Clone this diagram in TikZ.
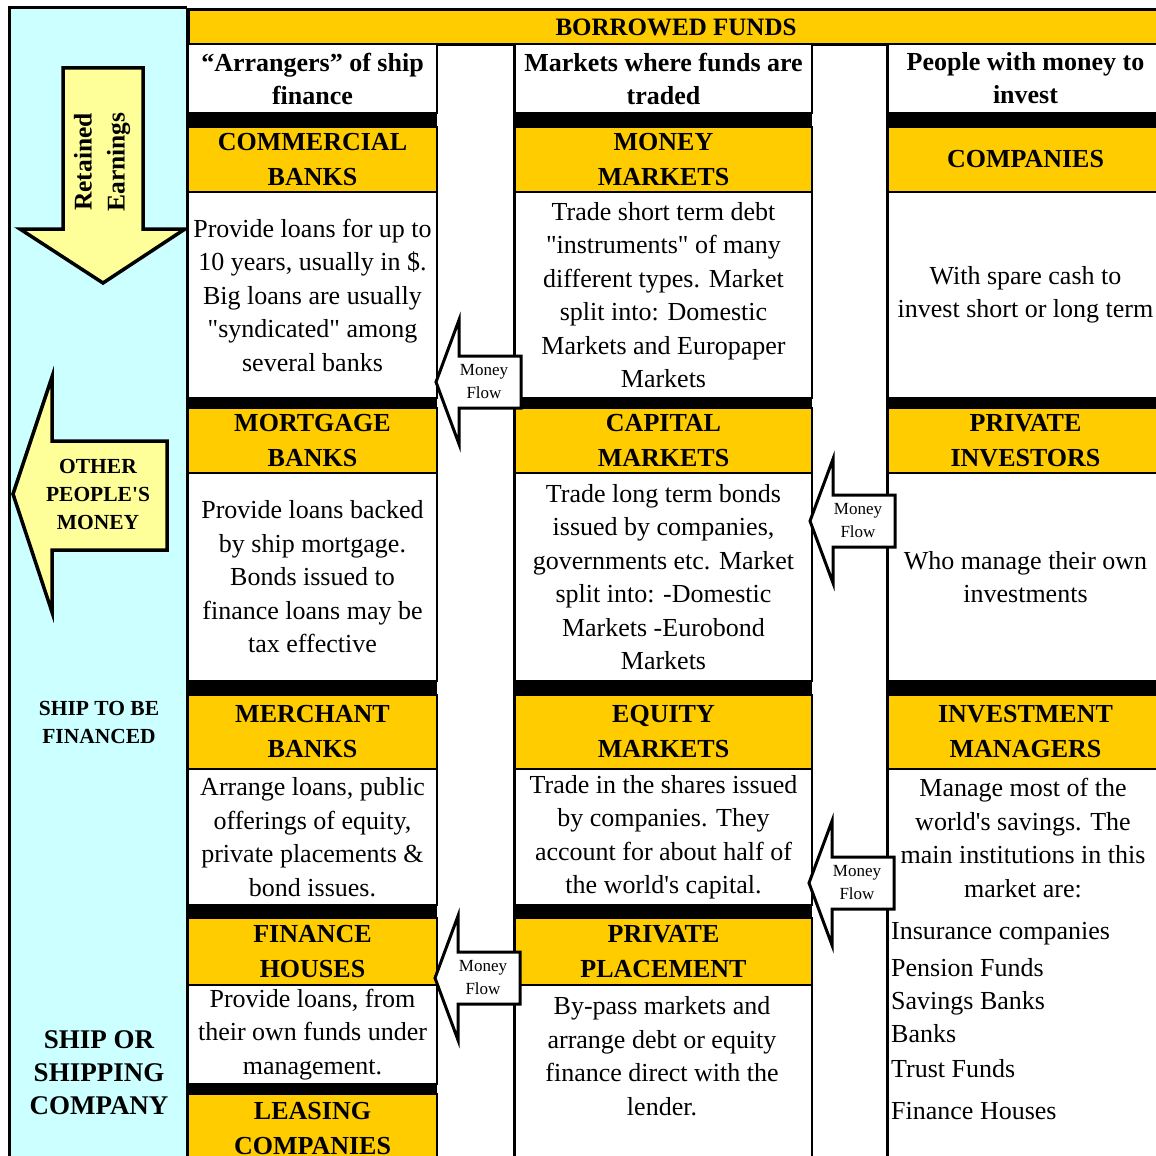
\documentclass[tikz,border=0pt]{standalone}
\usepackage{fontspec}
\setmainfont{Liberation Serif}[Ligatures=TeXOff]
\definecolor{fundyellow}{HTML}{FFCC00}
\definecolor{panelcyan}{HTML}{CCFFFF}
\definecolor{arrowyellow}{HTML}{FFFF99}

% a table cell: name, style, x1, y1, x2, y2, text
\newcommand{\cell}[7]{\node[#2,minimum width={(#5-#3)*1pt},minimum height={(#6-#4)*1pt}] (#1) at (#3,#4) {#7};}
% a "Money Flow" arrow pointing left: name, tip x, tip y
\newcommand{\moneyflow}[3]{%
  \draw[flow] (#2,#3) -- ++(23,-62) -- ++(0,36) -- ++(62,0) -- ++(0,52) -- ++(-62,0) -- ++(0,36) -- cycle;
  \node[flowtext] (#1) at (#2+48,#3) {Money\\Flow};}

\begin{document}
\begin{tikzpicture}[x=1pt,y=-1pt,
  bodytext/.style={font=\fontsize{26}{33.5}\selectfont,align=center},
  cellbox/.style={draw=black,line width=2pt,inner sep=0pt,anchor=north west,align=center},
  headcell/.style={cellbox,fill=white,font=\bfseries\fontsize{26}{33}\selectfont},
  namecell/.style={cellbox,fill=fundyellow,font=\bfseries\fontsize{26}{35}\selectfont},
  textcell/.style={cellbox,fill=white,bodytext},
  gapcol/.style={draw=black,line width=2pt,fill=white},
  bar/.style={fill=black},
  flow/.style={draw=black,line width=3pt,fill=white,line join=miter},
  flowtext/.style={font=\fontsize{17}{23}\selectfont,align=center},
  bigarrow/.style={draw=black,line width=3.5pt,fill=arrowyellow,line join=miter},
  paneltext/.style={font=\bfseries\fontsize{21.5}{28}\selectfont,align=center},
  listtext/.style={font=\fontsize{26}{33}\selectfont,anchor=west,inner sep=0pt}]
\useasboundingbox (0,0) rectangle (1156,1156);
\clip (0,0) rectangle (1156,1156);
\fill[white] (0,0) rectangle (1156,1156);

% left panel
\fill[panelcyan] (9,8) rectangle (187,1163);
\draw[line width=3pt] (9,1163) -- (9,8) -- (187,8);
\draw[bigarrow] (63,68) -- (143,68) -- (143,229) -- (185,229) -- (103,283) -- (20,229) -- (63,229) -- cycle;
\node[rotate=90,font=\bfseries\fontsize{25.5}{33}\selectfont,align=center] (retained) at (102,162) {Retained\\Earnings};
\draw[bigarrow] (13,494) -- (52,377) -- (52,441) -- (167,441) -- (167,550) -- (52,550) -- (52,612) -- cycle;
\node[paneltext] (others) at (98,494) {OTHER\\PEOPLE'S\\MONEY};
\node[paneltext] (ship) at (99,722) {SHIP TO BE\\FINANCED};
\node[paneltext,font=\bfseries\fontsize{27}{33}\selectfont] (company) at (99,1073) {SHIP OR\\SHIPPING\\COMPANY};

% gaps between the columns
\draw[gapcol] (436,43) rectangle (514,1163);
\draw[gapcol] (811,43) rectangle (887,1163);

\cell{borrowed}{namecell,line width=3pt,font=\bfseries\fontsize{25}{33}\selectfont}{187}{8}{1162}{43}{BORROWED FUNDS}

% arrangers
\cell{arrangers}{headcell}{187}{43}{436}{112}{“Arrangers” of ship\\finance}
\cell{commercial}{namecell}{187}{126}{436}{191}{COMMERCIAL\\BANKS}
\cell{commtext}{textcell}{187}{191}{436}{397}{Provide loans for up to\\10 years, usually in \$.\\Big loans are usually\\"syndicated" among\\several banks}
\cell{mortgage}{namecell}{187}{407}{436}{472}{MORTGAGE\\BANKS}
\cell{morttext}{textcell}{187}{472}{436}{680}{Provide loans backed\\by ship mortgage.\\Bonds issued to\\finance loans may be\\tax effective}
\cell{merchant}{namecell}{187}{694}{436}{768}{MERCHANT\\BANKS}
\cell{merchtext}{textcell}{187}{768}{436}{904}{Arrange loans, public\\offerings of equity,\\private placements \&\\bond issues.}
\cell{finance}{namecell}{187}{917}{436}{984}{FINANCE\\HOUSES}
\cell{fintext}{textcell}{187}{984}{436}{1083}{Provide loans, from\\their own funds under\\management.}
\cell{leasing}{namecell}{187}{1093}{436}{1163}{LEASING\\COMPANIES}

% markets
\cell{markets}{headcell}{514}{43}{811}{112}{Markets where funds are\\traded}
\cell{money}{namecell}{514}{126}{811}{191}{MONEY\\MARKETS}
\cell{moneytext}{textcell}{514}{191}{811}{397}{Trade short term debt\\"instruments" of many\\different types. Market\\split into: Domestic\\Markets and Europaper\\Markets}
\cell{capital}{namecell}{514}{407}{811}{472}{CAPITAL\\MARKETS}
\cell{captext}{textcell}{514}{472}{811}{680}{Trade long term bonds\\issued by companies,\\governments etc. Market\\split into: -Domestic\\Markets -Eurobond\\Markets}
\cell{equity}{namecell}{514}{694}{811}{768}{EQUITY\\MARKETS}
\cell{eqtext}{textcell}{514}{768}{811}{904}{Trade in the shares issued\\by companies. They\\account for about half of\\the world's capital.}
\cell{private}{namecell}{514}{917}{811}{984}{PRIVATE\\PLACEMENT}
\cell{privbox}{textcell}{514}{984}{811}{1163}{}
\node[bodytext] (privtext) at (662,1056) {By-pass markets and\\arrange debt or equity\\finance direct with the\\lender.};

% investors
\cell{people}{headcell}{887}{43}{1162}{112}{People with money to\\invest}
\cell{companies}{namecell}{887}{126}{1162}{191}{COMPANIES}
\cell{comptext}{textcell}{887}{191}{1162}{397}{With spare cash to\\invest short or long term}
\cell{investors}{namecell}{887}{407}{1162}{472}{PRIVATE\\INVESTORS}
\cell{invtext}{textcell}{887}{472}{1162}{680}{Who manage their own\\investments}
\cell{managers}{namecell}{887}{694}{1162}{768}{INVESTMENT\\MANAGERS}
\cell{mgrbox}{textcell}{887}{768}{1162}{1163}{}
\node[bodytext] (mgrtext) at (1023,838) {Manage most of the\\world's savings. The\\main institutions in this\\market are:};
\foreach \y/\t [count=\i] in {934/Insurance companies,968/Pension Funds,1003/Savings Banks,1034/Banks,1069/Trust Funds,1111/Finance Houses}
  \node[listtext] (inst\i) at (891,\y) {\t};

% black bars between the rows
\foreach \ya/\yb in {112/126,397/407,680/694,904/917,1083/1093}
  \fill[bar] (187,\ya) rectangle (436,\yb);
\foreach \ya/\yb in {112/126,397/407,680/694,904/917}
  \fill[bar] (514,\ya) rectangle (811,\yb);
\foreach \ya/\yb in {112/126,397/407,680/694}
  \fill[bar] (887,\ya) rectangle (1162,\yb);
\draw[line width=3pt] (187,8) -- (187,1163);

% money flows
\moneyflow{flowa}{436}{382}
\moneyflow{flowb}{810}{521}
\moneyflow{flowc}{809}{883}
\moneyflow{flowd}{435}{978}
\end{tikzpicture}
\end{document}
